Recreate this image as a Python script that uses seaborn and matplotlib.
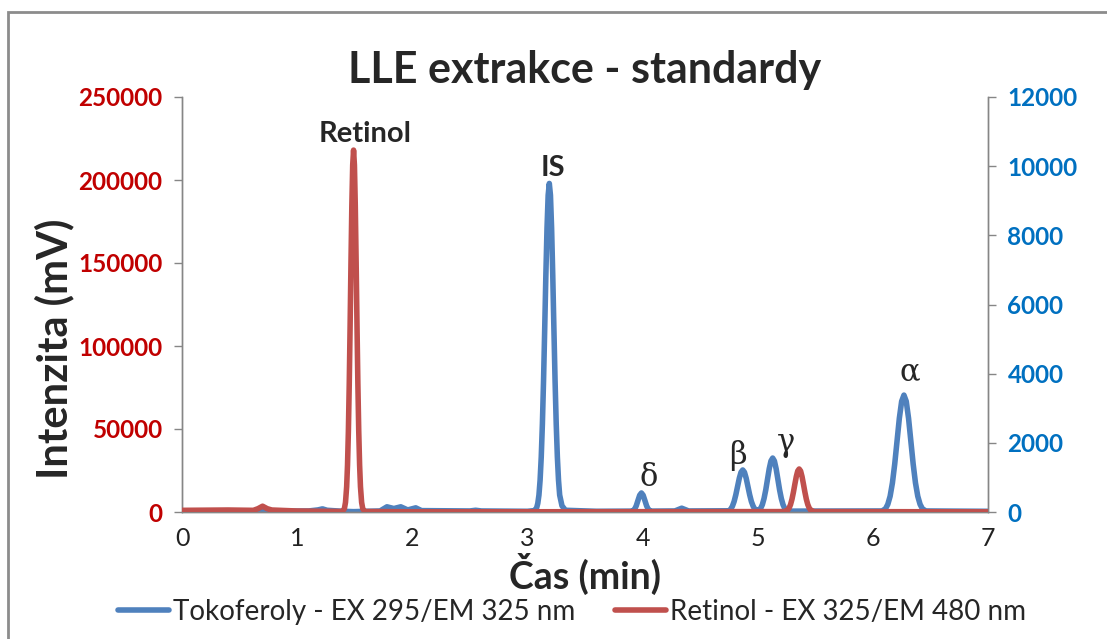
import matplotlib
matplotlib.use("Agg")
import matplotlib.pyplot as plt
import seaborn as sns
import pandas as pd
from matplotlib.patches import Rectangle
from matplotlib.lines import Line2D

# ---- data ----
toko_time = [0.0, 0.3, 0.6, 0.66, 0.7, 0.74, 0.8, 1.1, 1.18, 1.22, 1.26, 1.4, 1.49, 1.6, 1.72, 1.78, 1.84, 1.90,
             1.96, 2.03, 2.08, 2.5, 2.55, 2.6, 3.0, 3.06,
             3.08, 3.09, 3.10, 3.11, 3.12, 3.13, 3.14, 3.15, 3.16, 3.17, 3.18, 3.19, 3.20, 3.21, 3.22,
             3.23, 3.24, 3.25, 3.26, 3.27, 3.28, 3.30, 3.33, 3.6,
             3.91, 3.93, 3.945, 3.96, 3.975, 3.99, 4.005, 4.02, 4.035, 4.05, 4.07,
             4.28, 4.31, 4.34, 4.37, 4.40,
             4.75, 4.765, 4.78, 4.795, 4.81, 4.825, 4.84, 4.855, 4.87, 4.885, 4.90, 4.915, 4.93, 4.945,
             4.96, 4.975, 4.99, 5.01, 5.025, 5.04, 5.055, 5.07, 5.085, 5.10, 5.115, 5.13, 5.145, 5.16,
             5.175, 5.19, 5.205, 5.22, 5.235, 5.25, 5.29,
             6.08, 6.11, 6.13, 6.15, 6.17, 6.19, 6.21, 6.23, 6.25, 6.27, 6.29, 6.31, 6.33, 6.35, 6.37,
             6.39, 6.41, 6.43, 6.46, 7.0]
toko_val = [20, 30, 20, 40, 60, 40, 20, 30, 60, 90, 50, 20, 10, 20, 30, 150, 100, 150,
            60, 120, 40, 30, 50, 30, 20, 40,
            120, 250, 490, 920, 1590, 2550, 3800, 5290, 6840, 8200, 9160, 9500, 9160, 8200, 6840,
            5290, 3800, 2550, 1590, 920, 490, 180, 50, 20,
            25, 74, 178, 334, 485, 550, 485, 334, 178, 74, 25,
            30, 70, 110, 70, 30,
            35, 80, 165, 303, 500, 737, 975, 1150, 1215, 1150, 975, 737, 500, 303,
            170, 80, 50, 60, 100, 210, 390, 640, 947, 1250, 1475, 1560, 1475, 1250,
            947, 640, 390, 210, 100, 45, 25,
            30, 95, 223, 457, 843, 1390, 2050, 2710, 3200, 3380, 3200, 2710, 2050, 1390, 843,
            457, 223, 95, 30, 20]

ret_time = [0.0, 0.4, 0.62, 0.66, 0.70, 0.74, 0.78, 1.0, 1.39, 1.41, 1.42, 1.43, 1.4375, 1.445, 1.4525,
            1.46, 1.4675, 1.475, 1.4825, 1.49, 1.4975, 1.505, 1.5125, 1.52, 1.5275, 1.535, 1.5425,
            1.55, 1.56, 1.57, 1.59, 2.0,
            5.23, 5.26, 5.2725, 5.285, 5.2975, 5.31, 5.3225, 5.335, 5.3475, 5.36, 5.3725, 5.385,
            5.3975, 5.41, 5.4225, 5.435, 5.4475, 5.46, 5.49, 7.0]
ret_val = [1000, 1200, 1000, 2000, 3500, 2000, 1200, 600, 300, 1900, 5800, 15200, 28300, 48600, 77000,
           112000, 150000, 184500, 209000, 218000, 209000, 184500, 150000, 112000, 77000, 48600, 28300,
           15200, 5800, 1900, 300, 100,
           250, 1140, 2360, 4450, 7650, 11900, 16700, 21300, 24700, 25900, 24700, 21300,
           16700, 11900, 7650, 4450, 2360, 1140, 250, 100]

left_ticks = [0, 50000, 100000, 150000, 200000, 250000]
right_ticks = [0, 2000, 4000, 6000, 8000, 10000, 12000]
x_ticks = [0, 1, 2, 3, 4, 5, 6, 7]

label_toko = "Tokoferoly - EX 295/EM 325 nm"
label_ret = "Retinol - EX 325/EM 480 nm"

# peak labels: (text, time, value, axis)
peak_labels = [("Retinol", 1.59, 228000, "left"),
               ("IS", 3.22, 9950, "right"),
               ("δ", 4.05, 990, "right"),
               ("β", 4.83, 1620, "right"),
               ("γ", 5.25, 2000, "right"),
               ("α", 6.32, 4050, "right")]

BLUE = "#4F81BD"
RED = "#C0504D"
GRAY = "#868686"

sns.set_style("white")
plt.rcParams["font.family"] = ["Lato", "DejaVu Sans"]

fig = plt.figure(figsize=(11.07, 6.39), dpi=100)
ax = fig.add_axes([182/1107, 1 - 512/639, (988-182)/1107, (512-97)/639])
ax2 = ax.twinx()

df_t = pd.DataFrame({"t": toko_time, "v": toko_val})
df_r = pd.DataFrame({"t": ret_time, "v": ret_val})

sns.lineplot(data=df_t, x="t", y="v", ax=ax2, color=BLUE, linewidth=4, sort=False, zorder=2)
sns.lineplot(data=df_r, x="t", y="v", ax=ax, color=RED, linewidth=4, sort=False, zorder=3)
for ln in ax.lines + ax2.lines:
    ln.set_solid_joinstyle("round")
    ln.set_solid_capstyle("round")
ax.set_zorder(ax2.get_zorder() + 1)
ax.patch.set_visible(False)

ax.set_xlim(0, 7)
ax.set_ylim(0, 250000)
ax2.set_ylim(0, 12000)
ax.set_xticks(x_ticks)
ax.set_xticklabels([str(x) for x in x_ticks], fontsize=18, color="#222222")
ax.set_yticks(left_ticks)
ax.set_yticklabels([str(v) for v in left_ticks], fontsize=17.5, color="#C00000", fontweight="bold")
ax2.set_yticks(right_ticks)
ax2.set_yticklabels([str(v) for v in right_ticks], fontsize=17.5, color="#0070C0", fontweight="bold")

for a in (ax, ax2):
    for s in a.spines.values():
        s.set_color(GRAY)
        s.set_linewidth(1)
    a.spines["top"].set_visible(False)
ax.tick_params(axis="y", direction="out", length=6, color=GRAY, width=1, pad=8)
ax2.tick_params(axis="y", direction="out", length=6, color=GRAY, width=1, pad=8)
ax.tick_params(axis="x", direction="out", length=6, color=GRAY, width=1, pad=5)

ax.set_xlabel("Čas (min)", fontsize=27, fontweight="bold", labelpad=2)
ax.set_ylabel("Intenzita (mV)", fontsize=30, fontweight="bold")
ax.yaxis.set_label_coords((74 - 182) / 806, (512 - 349) / 415)
ax2.set_ylabel("")
ax.set_title("LLE extrakce - standardy", fontsize=31, fontweight="bold", pad=10)

for txt, t, v, which in peak_labels:
    target = ax if which == "left" else ax2
    greek = txt in ("δ", "β", "γ", "α")
    target.text(t, v, txt, ha="center", va="center", fontsize=22 if greek else 21,
                fontweight="normal" if greek else "bold",
                family=["DejaVu Serif"] if greek else None,
                zorder=5, clip_on=False)

handles = [Line2D([0], [0], color=BLUE, lw=4), Line2D([0], [0], color=RED, lw=4)]
fig.legend(handles, [label_toko, label_ret], loc="center", bbox_to_anchor=(572/1107, 1 - 612/639),
           ncol=2, frameon=False, fontsize=20, handlelength=1.85, handletextpad=0.15, columnspacing=1.4,
           borderpad=0, borderaxespad=0)

fig.patches.append(Rectangle((8/1107, -0.05), 1.1, 1 - 12/639 + 0.05, transform=fig.transFigure,
                             fill=False, edgecolor="#8C8C8C", linewidth=2))

fig.savefig("out.png", dpi=100)
